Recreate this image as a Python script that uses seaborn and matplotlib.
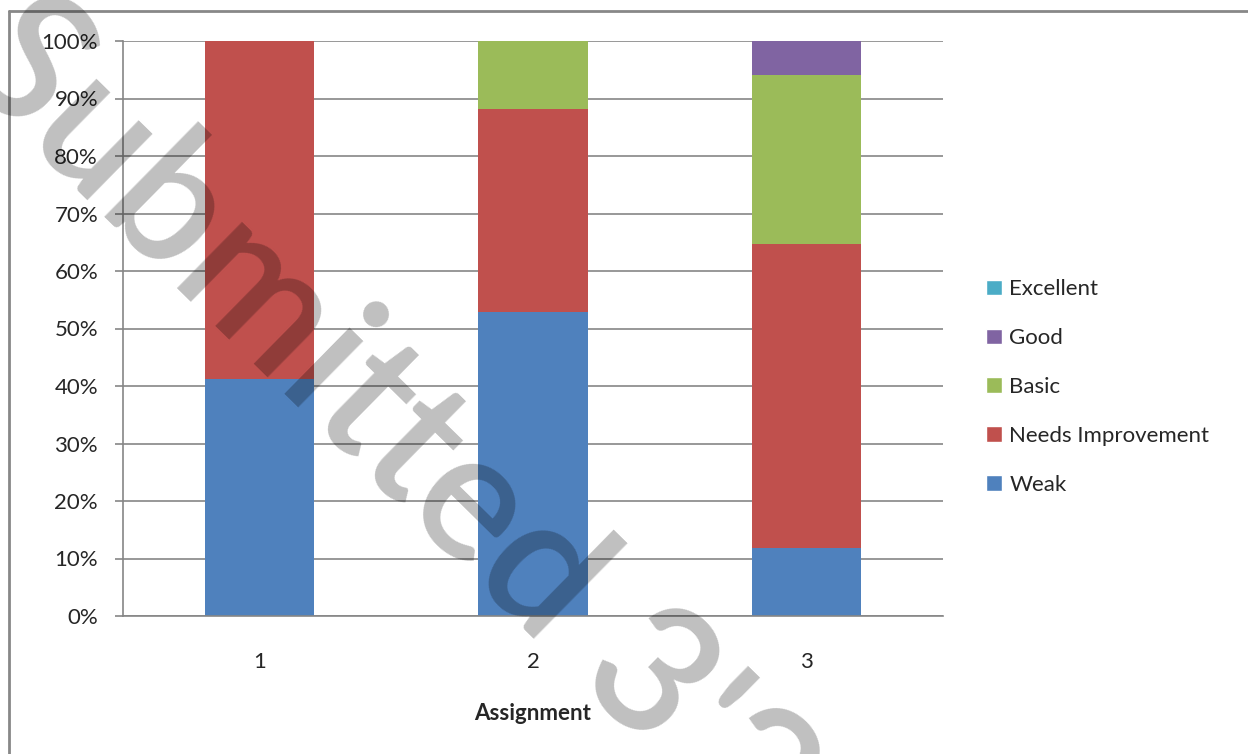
import pandas as pd
import matplotlib.pyplot as plt
import seaborn as sns
from matplotlib.patches import Patch
from matplotlib.lines import Line2D

sns.set_theme(style="white")
plt.rcParams['font.family'] = ['Lato', 'DejaVu Sans']

# Datos: porcentaje de estudiantes por nivel en cada tarea
assignments = ['1', '2', '3']
levels = ['Weak', 'Needs Improvement', 'Basic', 'Good', 'Excellent']
weak = [41.2, 52.9, 11.8]
needs_improvement = [58.8, 35.3, 52.9]
basic = [0.0, 11.8, 29.4]
good = [0.0, 0.0, 5.9]
excellent = [0.0, 0.0, 0.0]
colors = ['#4F81BD', '#C0504D', '#9BBB59', '#8064A2', '#4BACC6']

df = pd.DataFrame({'Assignment': assignments, 'Weak': weak,
                   'Needs Improvement': needs_improvement, 'Basic': basic,
                   'Good': good, 'Excellent': excellent})
cum = df[levels].cumsum(axis=1)
cum['Assignment'] = df['Assignment']

fig = plt.figure(figsize=(12.48, 7.54), dpi=100)
ax = fig.add_axes([123 / 1248, 1 - 616 / 754, 820 / 1248, 575 / 754])

# barras apiladas: se dibujan los acumulados de arriba hacia abajo
for lvl, col in reversed(list(zip(levels, colors))):
    sns.barplot(data=cum, x='Assignment', y=lvl, color=col, width=0.4,
                saturation=1, ax=ax, zorder=2, linewidth=0)

ax.set_xlim(-0.5, 2.5)
ax.set_ylim(0, 100)
ax.set_yticks(range(0, 101, 10))
ax.set_yticklabels([f'{v}%' for v in range(0, 101, 10)], fontsize=16)
ax.set_xticks([0, 1, 2])
ax.set_xticklabels(assignments, fontsize=16)
ax.set_xticks([-0.5, 0.5, 1.5, 2.5], minor=True)
ax.tick_params(axis='x', which='major', length=0, pad=26)
ax.tick_params(axis='x', which='minor', length=6, width=1.2, color='#868686', direction='out')
ax.tick_params(axis='y', length=6, width=1.2, color='#868686', direction='out', left=True, pad=12)
ax.grid(axis='y', color='#868686', linewidth=1.2, zorder=0)
ax.set_axisbelow(True)
for s in ['top', 'right']:
    ax.spines[s].set_visible(False)
for s in ['left', 'bottom']:
    ax.spines[s].set_color('#868686')
    ax.spines[s].set_linewidth(1.2)
ax.set_ylabel('')
ax.set_xlabel('Assignment', fontsize=16, fontweight='bold', labelpad=22)

handles = [Patch(facecolor=c, label=l) for l, c in zip(levels, colors)][::-1]
fig.legend(handles=handles, loc='center left', bbox_to_anchor=(966 / 1248, 1 - 387 / 754),
           frameon=False, fontsize=16, handlelength=0.7, handleheight=0.7,
           handletextpad=0.35, labelspacing=1.3)

# marco exterior
fig.add_artist(Line2D([9 / 1248, 1], [1 - 11 / 754, 1 - 11 / 754], color='#888888', lw=2))
fig.add_artist(Line2D([9 / 1248, 9 / 1248], [0, 1 - 11 / 754], color='#888888', lw=2))

# marca de agua
fig.text(-47 / 1248, 1 - 68 / 754, "Submitted 3'2", fontsize=130, rotation=-44.5,
         rotation_mode='anchor', ha='left', va='baseline', color='black', alpha=0.25,
         family='Lato', fontweight='semibold', zorder=10)

fig.savefig('out.png', dpi=100)
